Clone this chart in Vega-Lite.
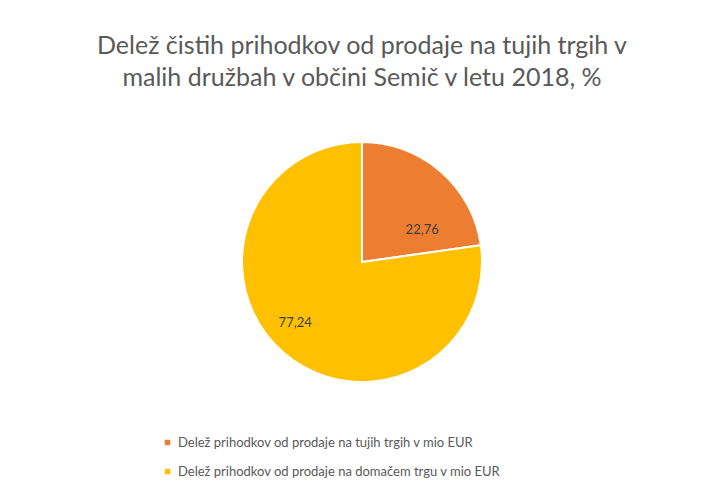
{
  "$schema": "https://vega.github.io/schema/vega-lite/v6.json",
  "autosize": "none",
  "width": 686,
  "height": 324,
  "padding": {"top": 100, "left": 19, "right": 0, "bottom": 73},
  "background": "white",
  "title": {
    "text": ["Delež čistih prihodkov od prodaje na tujih trgih v", "malih družbah v občini Semič v letu 2018, %"],
    "anchor": "middle",
    "font": "Lato",
    "fontSize": 25,
    "fontWeight": "normal",
    "color": "#595959",
    "lineHeight": 32,
    "offset": 9
  },
  "data": {
    "values": [
      {"kategorija": "Delež prihodkov od prodaje na tujih trgih v mio EUR", "delez": 22.76, "oznaka": "22,76", "vrstni_red": 1},
      {"kategorija": "Delež prihodkov od prodaje na domačem trgu v mio EUR", "delez": 77.24, "oznaka": "77,24", "vrstni_red": 2}
    ]
  },
  "encoding": {
    "theta": {"field": "delez", "type": "quantitative", "stack": true},
    "order": {"field": "vrstni_red", "type": "ordinal"}
  },
  "layer": [
    {
      "mark": {"type": "arc", "outerRadius": 120, "stroke": "white", "strokeWidth": 2},
      "encoding": {
        "color": {
          "field": "kategorija",
          "type": "nominal",
          "scale": {
            "domain": ["Delež prihodkov od prodaje na tujih trgih v mio EUR", "Delež prihodkov od prodaje na domačem trgu v mio EUR"],
            "range": ["#ED7D31", "#FFC000"]
          },
          "legend": {
            "title": null,
            "orient": "none",
            "legendX": 142,
            "legendY": 336,
            "direction": "vertical",
            "symbolType": "square",
            "symbolSize": 30,
            "labelFont": "Lato",
            "labelFontSize": 13,
            "labelColor": "#595959",
            "labelLimit": 500,
            "rowPadding": 15,
            "symbolStrokeWidth": 0
          }
        }
      }
    },
    {
      "transform": [{"filter": "datum.vrstni_red == 1"}],
      "mark": {"type": "text", "radius": 75, "dx": 11, "dy": 25, "font": "Lato", "fontSize": 13, "color": "#404040"},
      "encoding": {
        "text": {"field": "oznaka", "type": "nominal"}
      }
    },
    {
      "transform": [{"filter": "datum.vrstni_red == 2"}],
      "mark": {"type": "text", "radius": 75, "dx": -116, "dy": 4, "font": "Lato", "fontSize": 13, "color": "#404040"},
      "encoding": {
        "text": {"field": "oznaka", "type": "nominal"}
      }
    }
  ]
}
